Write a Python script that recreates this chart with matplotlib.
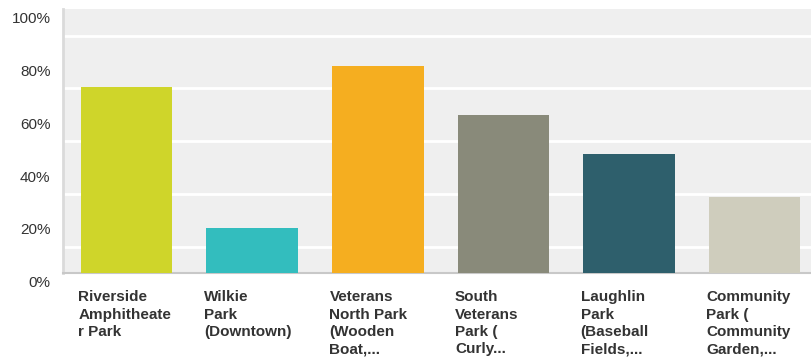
import matplotlib.pyplot as plt
import matplotlib.transforms as mtransforms
import numpy as np

plt.rcParams["font.family"] = ["Liberation Sans", "DejaVu Sans"]

parks = [
    "Riverside\nAmphitheate\nr Park",
    "Wilkie\nPark\n(Downtown)",
    "Veterans\nNorth Park\n(Wooden\nBoat,...",
    "South\nVeterans\nPark (\nCurly...",
    "Laughlin\nPark\n(Baseball\nFields,...",
    "Community\nPark (\nCommunity\nGarden,...",
]
shares = [70.5, 17.3, 78.5, 59.8, 45.2, 28.9]
colors = ["#cfd52a", "#33bdbe", "#f5ae20", "#898a7a", "#2e5f6c", "#cfcdbd"]
yticks = [0, 20, 40, 60, 80, 100]

fig = plt.figure(figsize=(8.11, 3.62), dpi=100)
ax = fig.add_axes([63 / 811, 88.7 / 362, 1 - 63 / 811, 264 / 362])
ax.set_facecolor("#efefef")

x = np.arange(len(shares))
width = 0.73
ax.bar(x, shares, width=width, color=colors, zorder=3)

ax.set_xlim(-0.507, 5.45)
ax.set_ylim(0, 100)

# white grid every 10%
ax.set_yticks(np.arange(0, 101, 10), minor=True)
ax.yaxis.grid(True, which="minor", color="white", linewidth=2, zorder=1)
ax.set_yticks(yticks)
ax.set_yticklabels([f"{t}%" for t in yticks], fontsize=11, color="#333333")
ax.tick_params(axis="y", length=0, pad=9)
ax.tick_params(axis="y", which="minor", length=0)
shift = mtransforms.ScaledTranslation(0, -6 / 72, fig.dpi_scale_trans)
for lbl in ax.get_yticklabels():
    lbl.set_transform(lbl.get_transform() + shift)

ax.set_xticks([])
for spine in ["top", "right"]:
    ax.spines[spine].set_visible(False)
ax.spines["left"].set_color("#dadada")
ax.spines["left"].set_linewidth(2)
ax.spines["bottom"].set_color("#c8c8c8")
ax.spines["bottom"].set_linewidth(1.5)

# category names sit left-aligned under each bar
label_tf = mtransforms.blended_transform_factory(ax.transData, ax.transAxes)
for xi, name in zip(x, parks):
    ax.text(xi - width / 2 - 0.02, -0.065, name, transform=label_tf,
            ha="left", va="top", fontsize=11, fontweight="bold",
            color="#333333", linespacing=1.3)

fig.savefig("out.png", dpi=100)
